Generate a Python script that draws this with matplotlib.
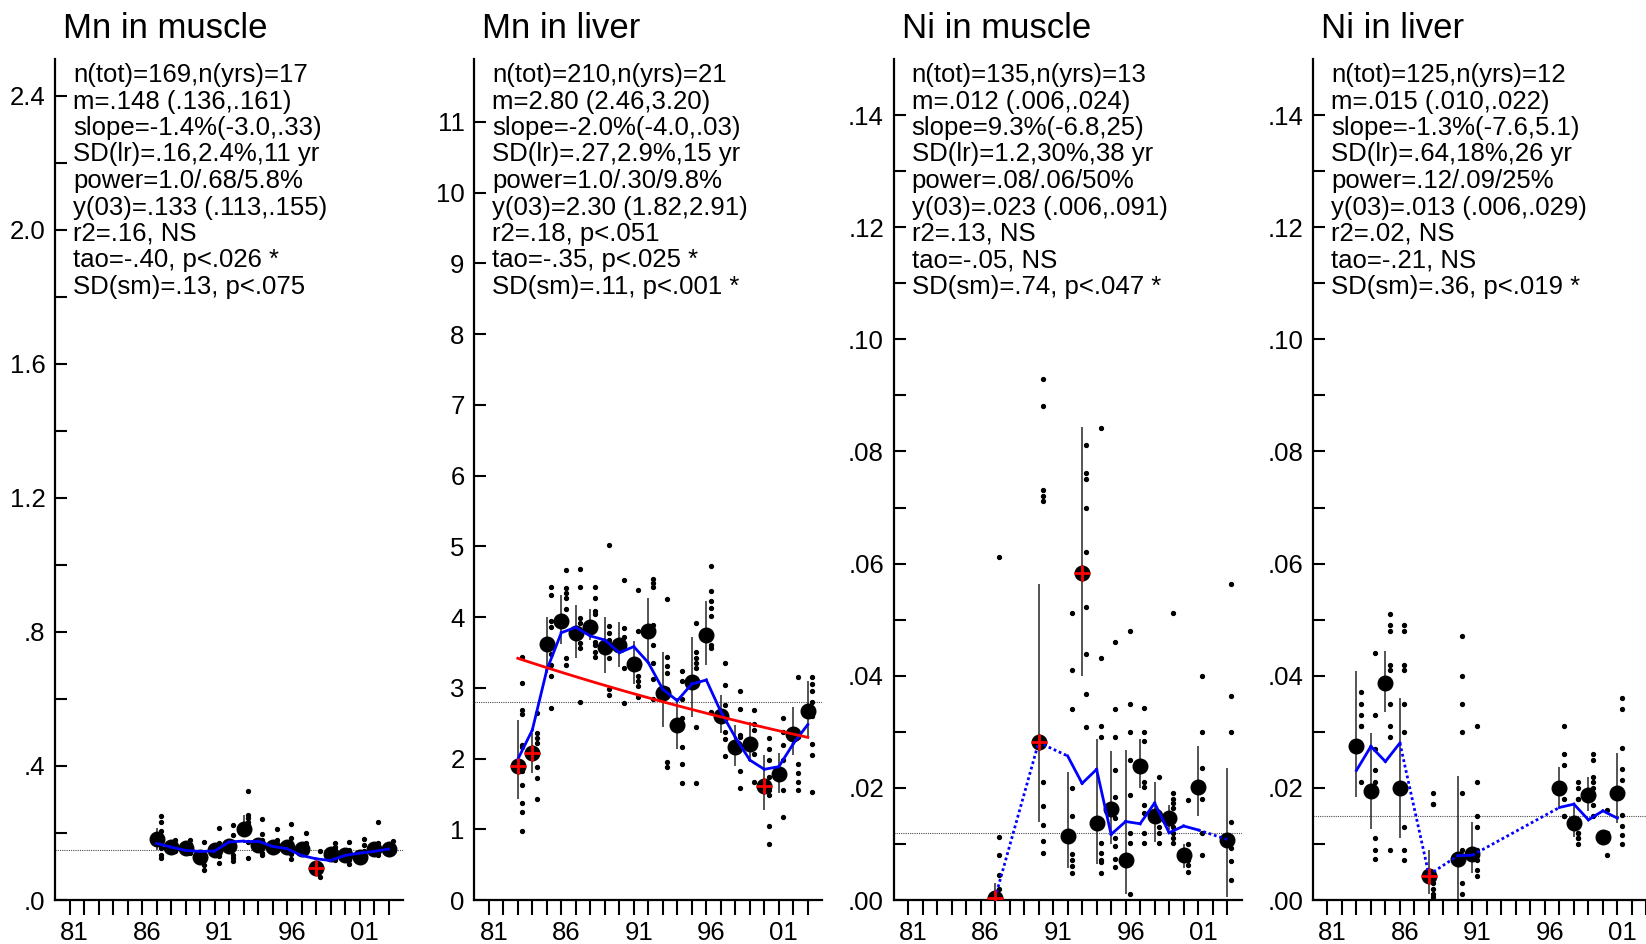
import numpy as np
import matplotlib
matplotlib.use("Agg")
import matplotlib.pyplot as plt
import matplotlib.transforms as mtransforms

plt.rcParams['font.family'] = ['Liberation Sans', 'DejaVu Sans']

#Titles and statistics text of the four panels
titles = ["Mn in muscle", "Mn in liver", "Ni in muscle", "Ni in liver"]

stats_mn_muscle = ["n(tot)=169,n(yrs)=17", "m=.148 (.136,.161)", "slope=-1.4%(-3.0,.33)",
                   "SD(lr)=.16,2.4%,11 yr", "power=1.0/.68/5.8%", "y(03)=.133 (.113,.155)",
                   "r2=.16, NS", "tao=-.40, p<.026 *", "SD(sm)=.13, p<.075"]
stats_mn_liver = ["n(tot)=210,n(yrs)=21", "m=2.80 (2.46,3.20)", "slope=-2.0%(-4.0,.03)",
                  "SD(lr)=.27,2.9%,15 yr", "power=1.0/.30/9.8%", "y(03)=2.30 (1.82,2.91)",
                  "r2=.18, p<.051", "tao=-.35, p<.025 *", "SD(sm)=.11, p<.001 *"]
stats_ni_muscle = ["n(tot)=135,n(yrs)=13", "m=.012 (.006,.024)", "slope=9.3%(-6.8,25)",
                   "SD(lr)=1.2,30%,38 yr", "power=.08/.06/50%", "y(03)=.023 (.006,.091)",
                   "r2=.13, NS", "tao=-.05, NS", "SD(sm)=.74, p<.047 *"]
stats_ni_liver = ["n(tot)=125,n(yrs)=12", "m=.015 (.010,.022)", "slope=-1.3%(-7.6,5.1)",
                  "SD(lr)=.64,18%,26 yr", "power=.12/.09/25%", "y(03)=.013 (.006,.029)",
                  "r2=.02, NS", "tao=-.21, NS", "SD(sm)=.36, p<.019 *"]

#Mn in muscle
mn_mus_years = [87, 88, 89, 90, 91, 92, 93, 94, 95, 96, 97, 98, 99, 100, 101, 102, 103]
mn_mus_mean = [.182, .157, .154, .129, .149, .161, .211, .164, .159, .157, .152, .096, .137, .134, .129, .152, .152]
mn_mus_hi = [.215, .170, .165, .145, .165, .180, .255, .180, .172, .170, .165, .108, .150, .145, .140, .165, .162]
mn_mus_lo = [.150, .145, .143, .115, .135, .145, .190, .150, .148, .145, .140, .088, .125, .125, .118, .140, .142]
mn_mus_smooth = [.169, .158, .148, .145, .146, .173, .176, .176, .160, .153, .133, .123, .118, .133, .140, .145, .152]
mn_mus_dots = [[.252, .234, .207, .154, .135, .125], [.179, .167, .161, .154, .145],
               [.179, .167, .149, .141], [.174, .135, .120, .105, .090],
               [.216, .169, .145, .130, .110], [.224, .194, .174, .164, .135, .125, .115],
               [.324, .254, .244, .234, .224, .209, .174, .126], [.241, .196, .179, .139, .135],
               [.211, .179, .164, .149], [.226, .184, .169, .157, .138, .123],
               [.199, .169, .157, .149], [.145, .100, .090, .070],
               [.171, .159, .149, .139, .130, .120], [.174, .149, .135, .120, .108],
               [.181, .164, .145, .130, .120], [.232, .169, .149, .135], [.177, .159, .145]]
mn_mus_flag = [98]
mn_mus_m = .148

#Mn in liver
mn_liv_years = list(range(83, 104))
mn_liv_mean = [1.899, 2.074, 3.614, 3.945, 3.770, 3.864, 3.582, 3.605, 3.337, 3.803, 2.931,
               2.474, 3.087, 3.747, 2.601, 2.168, 2.201, 1.612, 1.781, 2.347, 2.674]
mn_liv_hi = [2.545, 2.357, 4.005, 4.312, 4.171, 4.110, 3.997, 3.935, 3.666, 4.274, 3.511,
             2.851, 3.723, 4.232, 2.898, 2.474, 2.521, 2.050, 2.074, 2.73, 3.10]
mn_liv_lo = [1.424, 1.80, 3.205, 3.619, 3.417, 3.676, 3.205, 3.299, 3.054, 3.360, 2.450,
             2.130, 2.583, 3.322, 2.357, 1.895, 1.970, 1.272, 1.517, 2.05, 2.30]
mn_liv_smooth = [1.989, 2.403, 3.252, 3.779, 3.855, 3.733, 3.676, 3.497, 3.582, 3.356, 2.979,
                 2.818, 3.054, 3.110, 2.663, 2.300, 1.979, 1.848, 1.885, 2.21, 2.481]
mn_liv_dots = [[3.44, 3.07, 2.68, 2.63, 2.19, 2.17, 1.82, 1.63, 1.37, 1.25, 0.97],
               [2.64, 2.36, 2.29, 2.22, 1.88, 1.73, 1.43],
               [4.42, 4.31, 3.94, 3.86, 3.48, 3.32, 3.16, 2.72],
               [4.67, 4.41, 4.34, 4.27, 4.12, 3.42, 3.32],
               [4.68, 4.43, 3.98, 3.92, 3.64, 3.56, 2.80],
               [4.43, 4.27, 4.09, 4.04, 3.65, 3.61, 3.51, 3.43],
               [5.02, 3.87, 3.77, 3.68, 3.42, 2.98, 2.90],
               [4.52, 3.84, 3.72, 3.28, 2.78],
               [4.38, 3.81, 3.28, 3.16, 3.09, 3.02, 2.87],
               [4.54, 4.48, 4.43, 3.89, 3.60, 3.35, 3.13, 2.84],
               [4.26, 3.44, 3.31, 3.21, 2.99, 1.95, 1.88],
               [3.24, 3.09, 2.84, 2.58, 2.17, 1.92, 1.65],
               [3.92, 3.50, 3.42, 3.35, 3.28, 2.45, 1.66],
               [4.72, 4.37, 4.23, 4.13, 4.02, 3.60, 3.56, 2.66],
               [3.35, 3.04, 2.76, 2.38, 2.28, 2.03],
               [2.95, 2.70, 2.33, 2.31, 1.83, 1.59],
               [2.69, 2.49, 2.40, 2.07, 1.67],
               [2.29, 2.14, 1.98, 1.74, 1.56, 1.49, 1.05, 0.79],
               [2.58, 2.38, 2.19, 1.98, 1.56, 1.18],
               [3.15, 2.30, 1.92, 1.79, 1.67, 1.55],
               [3.15, 3.05, 2.95, 2.80, 2.60, 2.20, 2.05, 1.52]]
mn_liv_flag = [83, 84, 100]
mn_liv_m = 2.80

#Ni in muscle
ni_mus_years = [87, 90, 92, 93, 94, 95, 96, 97, 98, 99, 100, 101, 103]
ni_mus_mean = [.0004, .0281, .0114, .0583, .0137, .0162, .0071, .0239, .0149, .0147, .0080, .0202, .0107]
ni_mus_hi = [.0030, .0563, .0229, .0843, .0287, .0266, .0268, .0287, .0211, .0170, .0100, .0275, .0235]
ni_mus_lo = [.0000, .0139, .0057, .0400, .0065, .0099, .0010, .0199, .0104, .0125, .0057, .0150, .0005]
ni_mus_smooth = [.0004, .0281, .0257, .0208, .0233, .0117, .0140, .0136, .0173, .0120, .0132, .0125, .0108]
ni_mus_dots = [[.0611, .0112, .0081, .0045, .0020],
               [.0930, .0881, .0731, .0721, .0711, .0211, .0167, .0133, .0105, .0084],
               [.0511, .0411, .0340, .0200, .0149, .0082, .0071, .0061, .0048],
               [.0811, .0761, .0751, .0700, .0620, .0522, .0438, .0368, .0309],
               [.0841, .0431, .0311, .0291, .0101, .0083, .0071, .0068, .0049],
               [.0460, .0340, .0290, .0232, .0183, .0166, .0146, .0110, .0097, .0074, .0058],
               [.0480, .0350, .0300, .0250, .0187, .0119, .0101, .0068, .0010],
               [.0342, .0299, .0283, .0211, .0201, .0170, .0156, .0119, .0101],
               [.0220, .0149, .0131, .0119, .0101],
               [.0511, .0190, .0181, .0173, .0164, .0146, .0131, .0119, .0110, .0101],
               [.0179, .0100, .0071, .0062, .0050],
               [.0400, .0300, .0235, .0200, .0180, .0120, .0080],
               [.0564, .0364, .0300, .0139, .0093, .0070, .0036]]
ni_mus_flag = [87, 90, 93]
ni_mus_m = .012

#Ni in liver
ni_liv_years = [83, 84, 85, 86, 88, 90, 91, 97, 98, 99, 100, 101]
ni_liv_mean = [.0274, .0195, .0387, .0200, .0043, .0073, .0082, .0199, .0137, .0187, .0112, .0190]
ni_liv_hi = [.0409, .0297, .0445, .0360, .0089, .0221, .0139, .0237, .0167, .0220, .0125, .0263]
ni_liv_lo = [.0183, .0126, .0335, .0111, .0010, .0002, .0048, .0167, .0113, .0159, .0101, .0138]
ni_liv_smooth = [.0231, .0274, .0247, .0280, .0045, .0079, .0080, .0165, .0171, .0143, .0159, .0146]
ni_liv_dots = [[.0371, .0350, .0330, .0310, .0310, .0211],
               [.0440, .0330, .0269, .0231, .0211, .0110, .0090, .0074],
               [.0510, .0490, .0480, .0420, .0410, .0350, .0310, .0290, .0090],
               [.0490, .0480, .0420, .0410, .0350, .0300, .0131, .0090, .0071],
               [.0190, .0171, .0171, .0030, .0020, .0010, .0005],
               [.0470, .0400, .0350, .0300, .0190, .0089, .0030, .0010],
               [.0310, .0211, .0150, .0131, .0090, .0071, .0054, .0043],
               [.0310, .0261, .0240, .0199, .0181, .0150, .0150],
               [.0211, .0199, .0181, .0181, .0120, .0120, .0110, .0110, .0100],
               [.0261, .0250, .0220, .0211, .0199, .0187, .0170, .0149],
               [.0161, .0120, .0120, .0110, .0110, .0080],
               [.0360, .0340, .0271, .0234, .0214, .0152, .0132, .0116, .0100]]
ni_liv_flag = [88]
ni_liv_m = .015

#Axis ticks
x_major = [81, 86, 91, 96, 101]
x_labels = ["81", "86", "91", "96", "01"]
x_minor = list(range(81, 104))

yt_mn_mus = [0, .4, .8, 1.2, 1.6, 2.0, 2.4]
yl_mn_mus = [".0", ".4", ".8", "1.2", "1.6", "2.0", "2.4"]
ym_mn_mus = [.2, .6, 1.0, 1.4, 1.8, 2.2]
yt_mn_liv = list(range(0, 12))
yl_mn_liv = [str(v) for v in yt_mn_liv]
ym_mn_liv = []
yt_ni = [0, .02, .04, .06, .08, .10, .12, .14]
yl_ni = [".00", ".02", ".04", ".06", ".08", ".10", ".12", ".14"]
ym_ni = [.01, .03, .05, .07, .09, .11, .13]

ymax = [2.51, 11.89, 0.150, 0.150]

panels = [
    (mn_mus_years, mn_mus_mean, mn_mus_lo, mn_mus_hi, mn_mus_smooth, mn_mus_dots, mn_mus_flag, mn_mus_m,
     stats_mn_muscle, yt_mn_mus, yl_mn_mus, ym_mn_mus, False),
    (mn_liv_years, mn_liv_mean, mn_liv_lo, mn_liv_hi, mn_liv_smooth, mn_liv_dots, mn_liv_flag, mn_liv_m,
     stats_mn_liver, yt_mn_liv, yl_mn_liv, ym_mn_liv, True),
    (ni_mus_years, ni_mus_mean, ni_mus_lo, ni_mus_hi, ni_mus_smooth, ni_mus_dots, ni_mus_flag, ni_mus_m,
     stats_ni_muscle, yt_ni, yl_ni, ym_ni, False),
    (ni_liv_years, ni_liv_mean, ni_liv_lo, ni_liv_hi, ni_liv_smooth, ni_liv_dots, ni_liv_flag, ni_liv_m,
     stats_ni_liver, yt_ni, yl_ni, ym_ni, False),
]

W, H = 1646, 944
fig = plt.figure(figsize=(W / 100, H / 100), dpi=100)

for i, (years, mean, lo, hi, smooth, dots, flag, m, stats, yt, yl, ym, reg) in enumerate(panels):
    ax = fig.add_axes([(55 + 419.3 * i) / W, 44 / H, 348 / W, 841 / H])
    ax.set_xlim(80, 104)
    ax.set_ylim(0, ymax[i])

    #individual samples
    for yr, vals in zip(years, dots):
        ax.plot([yr + 0.3] * len(vals), vals, 'o', ms=2.8, color='black', zorder=2)

    #confidence intervals and yearly means
    ax.vlines(years, lo, hi, color='0.15', lw=1.1, zorder=3)
    ax.plot(years, mean, 'o', ms=10.5, color='black', zorder=4)

    #smoother: solid for consecutive years, dotted across gaps
    for k in range(len(years) - 1):
        ls = '-' if years[k + 1] - years[k] == 1 else (0, (1, 1))
        ax.plot(years[k:k + 2], smooth[k:k + 2], color='#0000ff', lw=2, ls=ls, zorder=5)

    #log-linear regression line
    if reg:
        yrs = np.array(years, dtype=float)
        b, a = np.polyfit(yrs, np.log(mean), 1)
        xx = np.linspace(yrs[0], yrs[-1], 50)
        ax.plot(xx, np.exp(a + b * xx), color='red', lw=2, zorder=5)

    ax.axhline(m, color='0.3', lw=0.8, ls=(0, (1, 1)), zorder=1)

    fy = [y for y in years if y in flag]
    fm = [mean[years.index(y)] for y in fy]
    ax.plot(fy, fm, '+', ms=11, mew=2, color='red', zorder=6)

    #axes styling
    for s in ['top', 'right']:
        ax.spines[s].set_visible(False)
    for s in ['left', 'bottom']:
        ax.spines[s].set_linewidth(1.6)
    ax.set_xticks(x_major)
    ax.set_xticklabels(x_labels)
    ax.set_xticks(x_minor, minor=True)
    ax.set_yticks(yt)
    ax.set_yticklabels(yl)
    ax.set_yticks(ym, minor=True)
    ax.tick_params(axis='y', which='both', direction='in', length=8.5, width=1.5, labelsize=18.5, pad=7)
    ax.tick_params(axis='x', which='both', direction='out', length=11, width=1.5, labelsize=18.5, pad=4)
    shift = mtransforms.ScaledTranslation(0.05, 0, fig.dpi_scale_trans)
    for lab in ax.get_xticklabels():
        lab.set_transform(lab.get_transform() + shift)

    ax.text(8 / 348, (900 - 38) / 841, titles[i], transform=ax.transAxes,
            fontsize=25, ha='left', va='baseline')
    for j, line in enumerate(stats):
        ax.text(18 / 348, (900 - (75 + 26.5 * j)) / 841, line, transform=ax.transAxes,
                fontsize=18.5, ha='left', va='center')

fig.savefig("out.png", dpi=100)
